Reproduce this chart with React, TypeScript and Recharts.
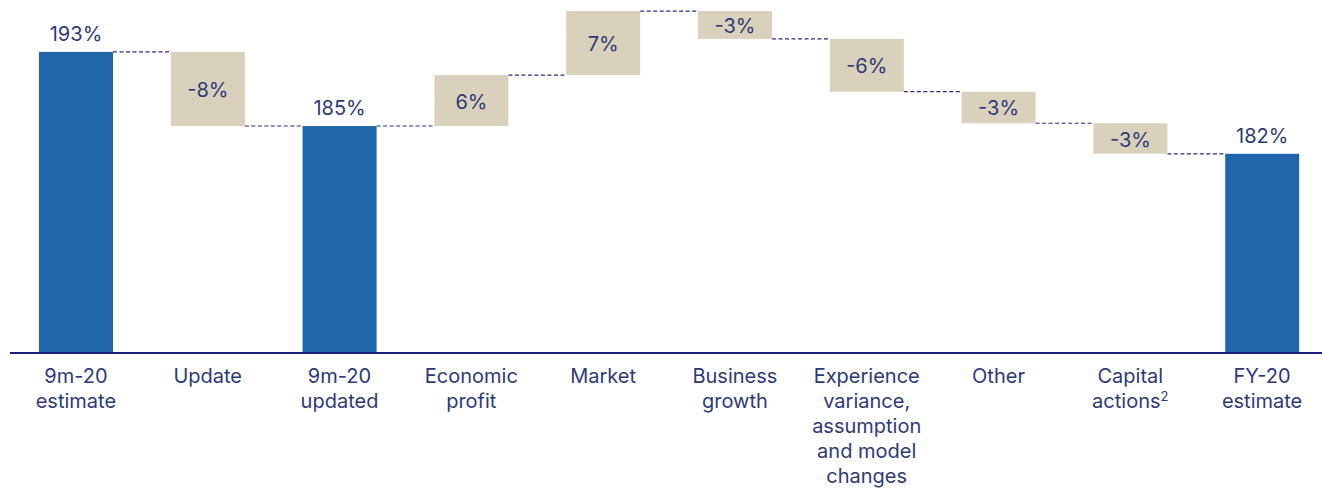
import { BarChart, Bar, XAxis, YAxis, LabelList } from "recharts";

// Solvency ratio walk: 9m-20 estimate -> FY-20 estimate, drawn as a waterfall
// with range bars (totals in blue, movements in beige) and dashed connectors.

const categories = [
  "9m-20\nestimate",
  "Update",
  "9m-20\nupdated",
  "Economic\nprofit",
  "Market",
  "Business\ngrowth",
  "Experience\nvariance,\nassumption\nand model\nchanges",
  "Other",
  "Capital\nactions",
  "FY-20\nestimate",
];
const footnotes = ["", "", "", "", "", "", "", "", "2", ""];
const kinds = ["total", "delta", "total", "delta", "delta", "delta", "delta", "delta", "delta", "total"];
const values = [193, -8.0, 185, 5.5, 6.9, -3.0, -5.7, -3.4, -3.3, 182];

const AXIS_MIN = 160.5;
const AXIS_MAX = 198.6;

const W = 1330;
const H = 488;
const MARGIN = { top: 0, right: 2, bottom: 0, left: 10 };
const BAND = (W - MARGIN.left - MARGIN.right) / categories.length;

const BLUE = "#2166ab";
const BEIGE = "#d9d1bc";
const NAVY = "#2e3a76";
const LINE = "#2a2d80";

let running = 0;
const data = categories.map((name, i) => {
  const v = values[i];
  if (kinds[i] === "total") {
    running = v;
    return { name, i, kind: "total", value: v, range: [AXIS_MIN, v], endTop: true };
  }
  const start = running;
  running = start + v;
  return {
    name,
    i,
    kind: "delta",
    value: v,
    range: [Math.min(start, running), Math.max(start, running)],
    endTop: v >= 0,
  };
});

function WaterfallBar(props: any) {
  const { x, y, width, height, payload, index } = props;
  const top = Math.min(y, y + height);
  const h = Math.abs(height);
  const fill = payload.kind === "total" ? BLUE : BEIGE;
  const lineY = payload.endTop ? top : top + h;
  return (
    <g>
      {index < data.length - 1 && (
        <line
          x1={x + width}
          x2={x + BAND}
          y1={lineY}
          y2={lineY}
          stroke={LINE}
          strokeWidth={1.2}
          strokeDasharray="4 2.5"
        />
      )}
      <rect x={x} y={top} width={width} height={h} fill={fill} />
    </g>
  );
}

function BarLabel(props: any) {
  const { x, y, width, height, index } = props;
  const d = data[index];
  const top = Math.min(y, y + height);
  const h = Math.abs(height);
  const text = d.kind === "total" ? `${d.value}%` : `${Math.round(d.value)}%`;
  const ty = d.kind === "total" ? top - 11 : top + h / 2 + 8;
  return (
    <text x={x + width / 2} y={ty} textAnchor="middle" fill={NAVY} fontSize={20}>
      {text}
    </text>
  );
}

function CategoryTick(props: any) {
  const { x, y, payload } = props;
  const lines = String(payload.value).split("\n");
  const note = footnotes[payload.index] ?? "";
  return (
    <text x={x} y={y + 30} textAnchor="middle" fill={NAVY} fontSize={20}>
      {lines.map((ln, k) => (
        <tspan key={k} x={x} dy={k === 0 ? 0 : 25}>
          {ln}
          {k === lines.length - 1 && note ? (
            <tspan dy={-7} fontSize={13}>
              {note}
            </tspan>
          ) : null}
        </tspan>
      ))}
    </text>
  );
}

export default function App() {
  return (
    <div
      style={{
        position: "absolute",
        left: 0,
        top: 0,
        width: 1322,
        height: H,
        overflow: "hidden",
        background: "#fff",
        fontFamily: "Inter, 'Open Sans', sans-serif",
      }}
    >
      <BarChart width={W} height={H} data={data} margin={MARGIN} barSize={74}>
        <XAxis
          dataKey="name"
          height={135}
          interval={0}
          tickLine={false}
          tickSize={0}
          tickMargin={0}
          axisLine={{ stroke: "#1b1f7a", strokeWidth: 2 }}
          tick={<CategoryTick />}
        />
        <YAxis hide domain={[AXIS_MIN, AXIS_MAX]} allowDataOverflow />
        <Bar dataKey="range" shape={<WaterfallBar />} isAnimationActive={false}>
          <LabelList dataKey="range" content={<BarLabel />} />
        </Bar>
      </BarChart>
    </div>
  );
}
